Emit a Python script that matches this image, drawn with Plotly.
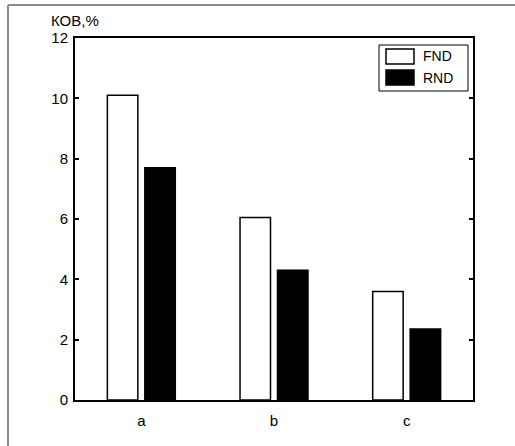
import plotly.graph_objects as go

categories = ["a", "b", "c"]
series_names = ["FND", "RND"]
fnd_values = [10.1, 6.05, 3.6]
rnd_values = [7.7, 4.3, 2.35]
y_ticks = [0, 2, 4, 6, 8, 10, 12]
y_title = "КОВ,%"

W, H = 515, 446
ML, MR, MT, MB = 75, 42, 38, 46
PW, PH = W - ML - MR, H - MT - MB
FONT = "Arial, Liberation Sans, sans-serif"

def px_x(px):
    return (px - ML) / PW

def px_y(py):
    return (H - MB - py) / PH

fig = go.Figure()
fig.add_trace(go.Bar(x=categories, y=fnd_values, name=series_names[0],
                     marker=dict(color="white", line=dict(color="black", width=1.5)),
                     showlegend=False))
fig.add_trace(go.Bar(x=categories, y=rnd_values, name=series_names[1],
                     marker=dict(color="black", line=dict(color="black", width=1.5)),
                     showlegend=False))

shapes = []
# outer gray frame (top and left edges)
shapes.append(dict(type="line", xref="paper", yref="paper", x0=px_x(8), x1=px_x(515),
                   y0=px_y(5), y1=px_y(5), line=dict(color="#8a8a8a", width=2)))
shapes.append(dict(type="line", xref="paper", yref="paper", x0=px_x(8), x1=px_x(8),
                   y0=px_y(5), y1=px_y(446), line=dict(color="#8a8a8a", width=2)))
# legend box
shapes.append(dict(type="rect", xref="paper", yref="paper", x0=px_x(379), x1=px_x(468),
                   y0=px_y(91), y1=px_y(45), line=dict(color="black", width=1), fillcolor="white"))
shapes.append(dict(type="rect", xref="paper", yref="paper", x0=px_x(386), x1=px_x(414),
                   y0=px_y(64), y1=px_y(49), line=dict(color="black", width=1.5), fillcolor="white"))
shapes.append(dict(type="rect", xref="paper", yref="paper", x0=px_x(386), x1=px_x(414),
                   y0=px_y(85), y1=px_y(70), line=dict(color="black", width=1.5), fillcolor="black"))

annotations = [
    dict(text=series_names[0], xref="paper", yref="paper", x=px_x(421), y=px_y(56.5),
         xanchor="left", yanchor="middle", showarrow=False,
         font=dict(family=FONT, size=14, color="black")),
    dict(text=series_names[1], xref="paper", yref="paper", x=px_x(421), y=px_y(77.5),
         xanchor="left", yanchor="middle", showarrow=False,
         font=dict(family=FONT, size=14, color="black")),
    dict(text=y_title, xref="paper", yref="paper", x=px_x(49), y=px_y(20),
         xanchor="left", yanchor="middle", showarrow=False,
         font=dict(family=FONT, size=15, color="black")),
]

fig.update_layout(
    width=W, height=H,
    margin=dict(l=ML, r=MR, t=MT, b=MB, pad=0),
    paper_bgcolor="white", plot_bgcolor="white",
    barmode="group", bargap=0.435, bargroupgap=0.187,
    shapes=shapes, annotations=annotations,
    font=dict(family=FONT, size=15, color="black"),
)
fig.update_xaxes(range=[-0.5, 2.5], showline=True, linecolor="black", linewidth=2,
                 mirror=True, ticks="", showgrid=False, zeroline=False,
                 ticklabelstandoff=6, tickfont=dict(size=15))
fig.update_yaxes(range=[0, 12], tickvals=y_ticks, showline=True, linecolor="black",
                 linewidth=2, mirror="ticks", ticks="inside", ticklen=4, tickwidth=2,
                 tickcolor="black", showgrid=False, zeroline=False, tickfont=dict(size=15),
                 ticklabelstandoff=2)

fig.write_html("out.html", config={"displayModeBar": False},
               post_script="document.body.style.margin='0';document.body.style.overflow='hidden';")
